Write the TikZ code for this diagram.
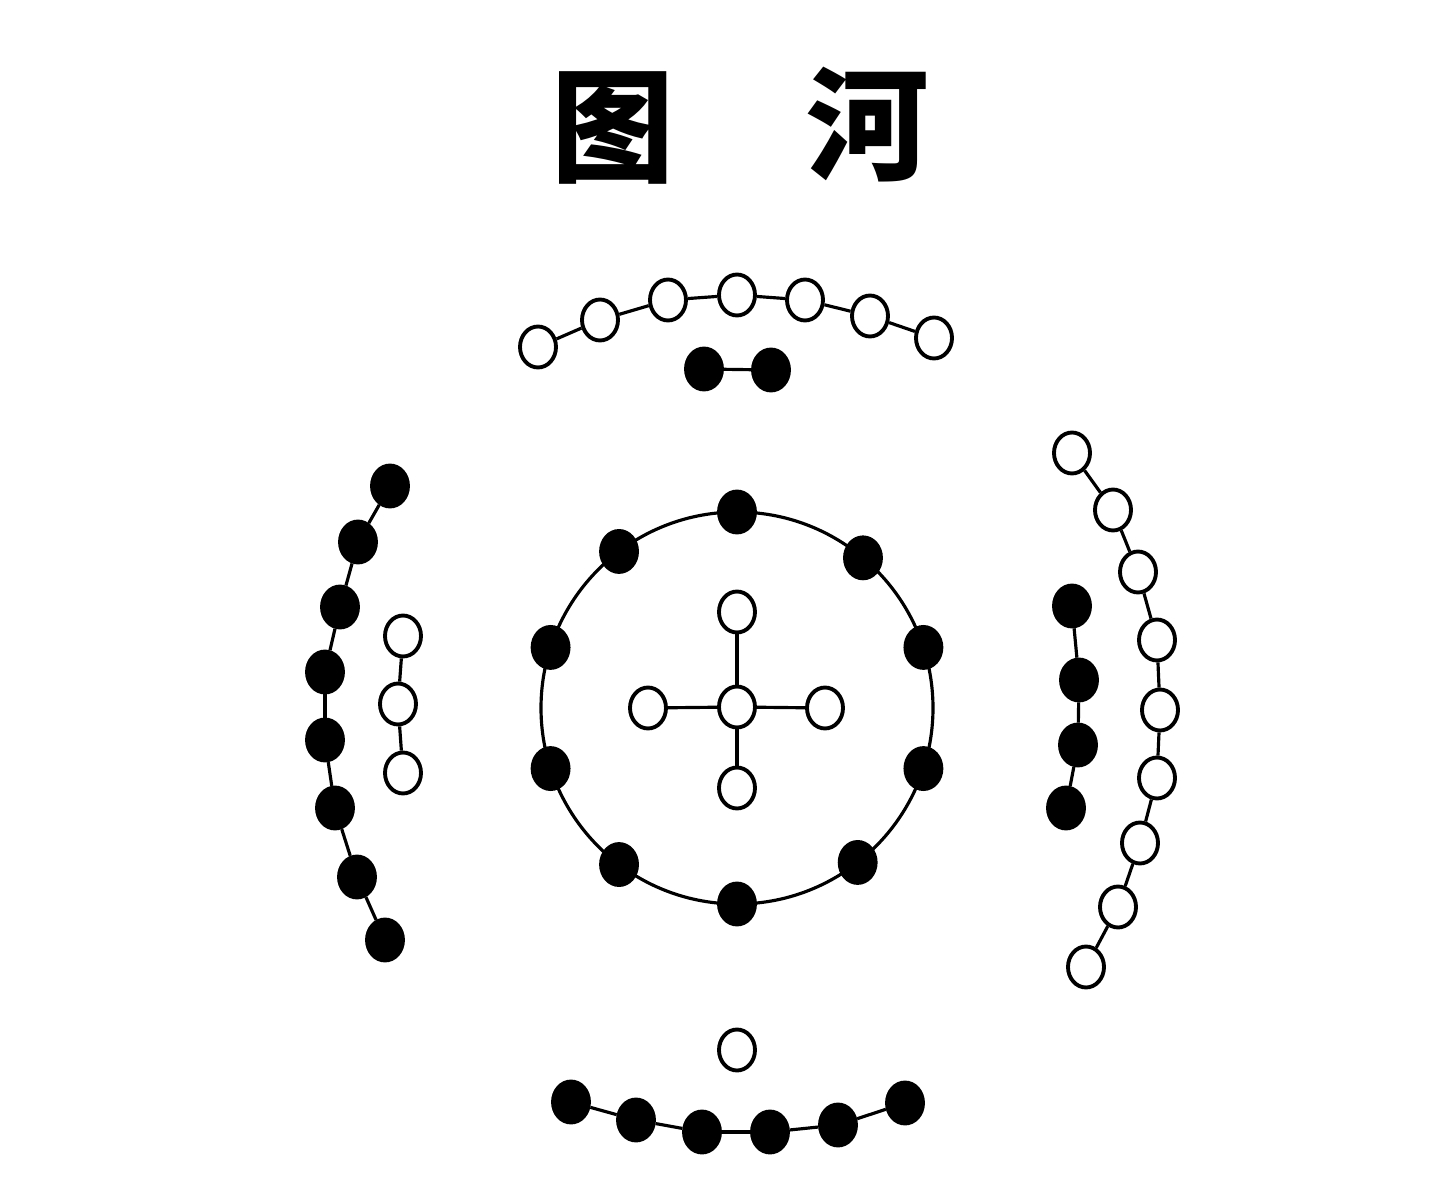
\documentclass[tikz,border=0pt]{standalone}
\usepackage{fontspec}
\newfontfamily\cjk{Noto Sans CJK SC}
\usepackage{tikz}
\usetikzlibrary{calc,shapes.geometric}
\tikzset{
	yang/.style={ellipse, draw, line width=1.1pt, fill=white, minimum width=0.36cm, minimum height=0.41cm, inner sep=0pt},
	yin/.style={ellipse, draw, line width=1.1pt, fill=black, minimum width=0.36cm, minimum height=0.41cm, inner sep=0pt},
	link/.style={line width=0.9pt},
	title/.style={font=\cjk\bfseries\fontsize{35}{35}\selectfont}
}

\begin{document}
\begin{tikzpicture}
			%%%%% START %%%%%
			\useasboundingbox (0, 0) rectangle (14.4, 12);
			
			\node[title] (tu) at (6.13, 10.72) {图};
			\node[title] (he) at (8.68, 10.75) {河};
			
			% centre circle
			\coordinate (c) at (7.37, 4.92);
			\draw[link] (c) circle (1.96);
			\foreach \a [count=\k] in {18,50,90,127,162,198,233,270,308,342}
				\node[yin] (r\k) at ($(c)+(\a:1.96)$) {};
			
			% centre cross
			\node[yang] (m0) at (7.37, 4.93) {};
			\node[yang] (m1) at (7.37, 5.88) {};
			\node[yang] (m2) at (8.25, 4.92) {};
			\node[yang] (m3) at (7.37, 4.12) {};
			\node[yang] (m4) at (6.48, 4.92) {};
			\foreach \i in {1,...,4}
				\draw[link] (m0) -- (m\i);
			
			% top
			\foreach \p [count=\i] in {(5.38,8.53),(6.00,8.80),(6.68,9.00),(7.37,9.05),(8.05,9.00),(8.70,8.84),(9.34,8.62)}
				\node[yang] (t\i) at \p {};
			\foreach \i [evaluate=\i as \j using int(\i+1)] in {1,...,6}
				\draw[link] (t\i) -- (t\j);
			\node[yin] (s1) at (7.04, 8.31) {};
			\node[yin] (s2) at (7.71, 8.30) {};
			\draw[link] (s1) -- (s2);
			
			% left
			\foreach \p [count=\i] in {(3.90,7.14),(3.58,6.58),(3.40,5.93),(3.25,5.28),(3.25,4.60),(3.35,3.92),(3.57,3.23),(3.85,2.60)}
				\node[yin] (l\i) at \p {};
			\foreach \i [evaluate=\i as \j using int(\i+1)] in {1,...,7}
				\draw[link] (l\i) -- (l\j);
			\foreach \p [count=\i] in {(4.03,5.64),(3.98,4.96),(4.03,4.27)}
				\node[yang] (k\i) at \p {};
			\draw[link] (k1) -- (k2) -- (k3);
			
			% right
			\foreach \p [count=\i] in {(10.72,7.47),(11.13,6.90),(11.38,6.28),(11.57,5.60),(11.60,4.90),(11.57,4.22),(11.40,3.57),(11.18,2.93),(10.86,2.33)}
				\node[yang] (e\i) at \p {};
			\foreach \i [evaluate=\i as \j using int(\i+1)] in {1,...,8}
				\draw[link] (e\i) -- (e\j);
			\foreach \p [count=\i] in {(10.72,5.94),(10.79,5.20),(10.78,4.55),(10.66,3.92)}
				\node[yin] (f\i) at \p {};
			\draw[link] (f1) -- (f2) -- (f3) -- (f4);
			
			% bottom
			\node[yang] (u1) at (7.37, 1.50) {};
			\foreach \p [count=\i] in {(5.71,0.98),(6.36,0.80),(7.02,0.68),(7.70,0.68),(8.38,0.75),(9.05,0.97)}
				\node[yin] (b\i) at \p {};
			\foreach \i [evaluate=\i as \j using int(\i+1)] in {1,...,5}
				\draw[link] (b\i) -- (b\j);
			
			%%%%% END %%%%%
		\end{tikzpicture}
\end{document}
